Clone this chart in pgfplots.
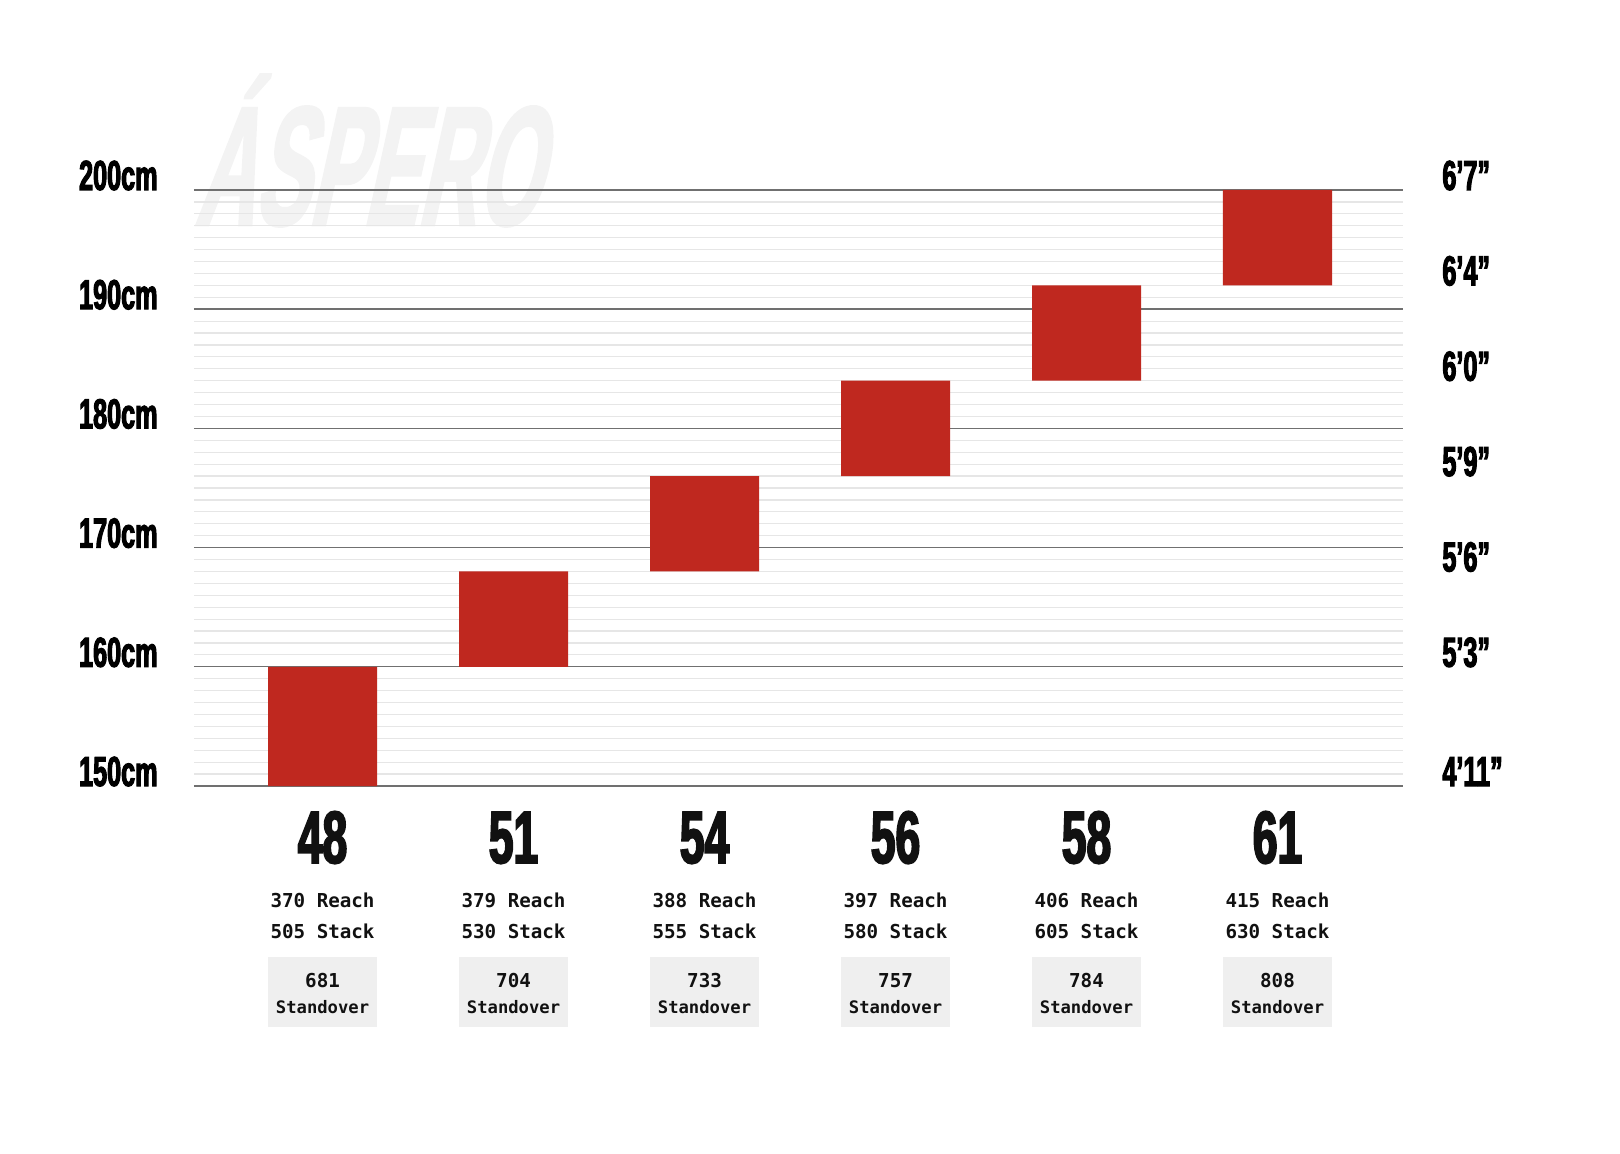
\documentclass[border=0pt]{standalone}
\usepackage{fontspec}
\usepackage{pgfplots}
\usepackage{pgfplotstable}
\pgfplotsset{compat=1.18}
\setmainfont{Liberation Sans}
\newfontfamily\cond[FakeStretch=0.6,FakeBold=2.5]{Liberation Sans Bold}
\newfontfamily\wm[FakeStretch=0.48,FakeBold=1.5]{Liberation Sans Bold}
\newfontfamily\mono{DejaVu Sans Mono Bold}

\definecolor{barred}{RGB}{191,40,31}
\definecolor{majgray}{RGB}{112,112,112}
\definecolor{mingray}{RGB}{230,230,230}
\definecolor{boxgray}{RGB}{239,239,239}
\definecolor{wmgray}{RGB}{243,243,243}
\definecolor{ink}{RGB}{17,17,17}

% size, rider height range (cm), frame numbers (mm)
\pgfplotstableread{
x size low span reach stack standover
0 48 150 10 370 505 681
1 51 160 8  379 530 704
2 54 168 8  388 555 733
3 56 176 8  397 580 757
4 58 184 8  406 605 784
5 61 192 8  415 630 808
}\sizes

% grey standover box with its two lines
\newcommand\sobox[1]{%
  \vbox to 35pt{%
    \hbox to 54.5pt{\hss\fontsize{9.6}{9.6}\selectfont\rule{0pt}{15pt}#1\hss}%
    \nointerlineskip
    \hbox to 54.5pt{\hss\fontsize{8.6}{8.6}\selectfont\rule{0pt}{13pt}Standover\hss}%
    \vfil}%
}
% labels under each bar
\newcommand\info[5]{%
  \node[anchor=base, inner sep=0pt, text=ink, font=\cond\fontsize{37}{37}\selectfont]
    at (axis cs:#1,150) [yshift=-38.5pt] {#2};
  \node[anchor=base, inner sep=0pt, text=ink, font=\mono\fontsize{9.6}{9.6}\selectfont]
    at (axis cs:#1,150) [yshift=-60.5pt] {#3 Reach};
  \node[anchor=base, inner sep=0pt, text=ink, font=\mono\fontsize{9.6}{9.6}\selectfont]
    at (axis cs:#1,150) [yshift=-76pt] {#4 Stack};
  \node[anchor=north, inner sep=0pt, fill=boxgray, text=ink, font=\mono]
    at (axis cs:#1,150) [yshift=-85.5pt] {\sobox{#5}};
}
\newcommand\leftlab[2]{%
  \node[anchor=base east, inner sep=0pt, text=black, font=\cond\fontsize{21}{21}\selectfont]
    at (axis cs:-0.673,#1) [xshift=-18pt] {#2};
}
\newcommand\rightlab[2]{%
  \node[anchor=base west, inner sep=0pt, text=black, font=\cond\fontsize{21}{21}\selectfont]
    at (axis cs:5.657,#1) [xshift=19.5pt] {#2};
}

\begin{document}
\begin{tikzpicture}
\useasboundingbox (-97pt,-184pt) rectangle (713pt,393pt);
\node[anchor=base west, inner sep=0pt, xslant=0.22, text=wmgray,
  font=\wm\fontsize{85}{85}\selectfont] at (0pt,280.5pt) {ÁSPERO};
\begin{axis}[
  scale only axis,
  width=604.5pt, height=298pt,
  xmin=-0.673, xmax=5.657,
  ymin=150, ymax=200,
  axis line style={draw=none},
  tick style={draw=none},
  xtick=\empty,
  ytick={150,160,...,200},
  yticklabels={},
  minor y tick num=9,
  ymajorgrids, yminorgrids,
  major grid style={color=majgray, line width=0.7pt},
  minor grid style={color=mingray, line width=0.6pt},
  ybar stacked,
  bar width=0.571,
  clip mode=individual,
]
\addplot[draw=none, fill=none] table[x=x, y=low] {\sizes};
\addplot[draw=none, fill=barred] table[x=x, y=span] {\sizes};

\info{0}{48}{370}{505}{681}
\info{1}{51}{379}{530}{704}
\info{2}{54}{388}{555}{733}
\info{3}{56}{397}{580}{757}
\info{4}{58}{406}{605}{784}
\info{5}{61}{415}{630}{808}

\leftlab{200}{200cm}
\leftlab{190}{190cm}
\leftlab{180}{180cm}
\leftlab{170}{170cm}
\leftlab{160}{160cm}
\leftlab{150}{150cm}

\rightlab{200}{6’7”}
\rightlab{192}{6’4”}
\rightlab{184}{6’0”}
\rightlab{176}{5’9”}
\rightlab{168}{5’6”}
\rightlab{160}{5’3”}
\rightlab{150}{4’11”}
\end{axis}
\end{tikzpicture}
\end{document}
